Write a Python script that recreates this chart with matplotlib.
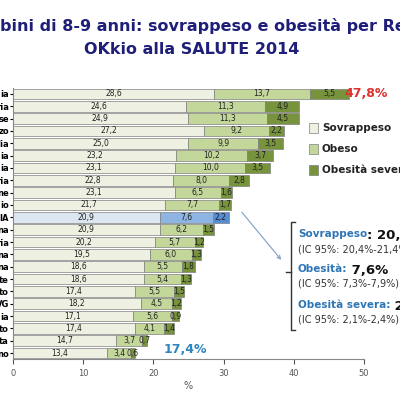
import matplotlib
matplotlib.use("Agg")
import matplotlib.pyplot as plt

labels = ["ia","ria","se","zo","lia","ia","ia","ria","ne","io","IA","na","ria","na","na","te","to","VG","ia","to","ta","no"]
sovrappeso = [28.6,24.6,24.9,27.2,25.0,23.2,23.1,22.8,23.1,21.7,20.9,20.9,20.2,19.5,18.6,18.6,17.4,18.2,17.1,17.4,14.7,13.4]
obeso = [13.7,11.3,11.3,9.2,9.9,10.2,10.0,8.0,6.5,7.7,7.6,6.2,5.7,6.0,5.5,5.4,5.5,4.5,5.6,4.1,3.7,3.4]
severa = [5.5,4.9,4.5,2.2,3.5,3.7,3.5,2.8,1.6,1.7,2.2,1.5,1.2,1.3,1.8,1.3,1.5,1.2,0.9,1.4,0.7,0.6]
italia_idx = 10

fig = plt.figure(figsize=(4,4), dpi=100)
ax = fig.add_axes([13/400, 1-359.2/400, 351/400, (359.2-87.8)/400])
n = len(labels)
y = list(range(n))[::-1]
c1 = ['#DCE6F1' if i == italia_idx else '#EEF1E2' for i in range(n)]
c2 = ['#8DB4E2' if i == italia_idx else '#C4D79B' for i in range(n)]
c3 = ['#558ED5' if i == italia_idx else '#77933C' for i in range(n)]
h = 0.85
ax.barh(y, sovrappeso, height=h, color=c1, edgecolor='#808080', linewidth=0.5)
ax.barh(y, obeso, left=sovrappeso, height=h, color=c2, edgecolor='#808080', linewidth=0.5)
lefts = [a+b for a, b in zip(sovrappeso, obeso)]
ax.barh(y, severa, left=lefts, height=h, color=c3, edgecolor='#808080', linewidth=0.5)
fmt = lambda v: f"{v:.1f}".replace('.', ',')
for i in range(n):
    ax.text(sovrappeso[i]/2, y[i], fmt(sovrappeso[i]), ha='center', va='center', fontsize=5.5, color='#222')
    ax.text(sovrappeso[i]+obeso[i]/2, y[i], fmt(obeso[i]), ha='center', va='center', fontsize=5.5, color='#222')
    ax.text(lefts[i]+severa[i]/2, y[i], fmt(severa[i]), ha='center', va='center', fontsize=5.5, color='#222')
ax.text(47.2, y[0], "47,8%", color='#E03030', fontsize=9, fontweight='bold', va='center')
ax.text(21.5, y[-1]+0.3, "17,4%", color='#2E86C1', fontsize=9, fontweight='bold', va='center')

ax.set_xlim(0, 50)
ax.set_ylim(-0.5, n-0.5)
ax.set_xticks([0,10,20,30,40,50])
ax.tick_params(axis='x', labelsize=6, colors='#555')
ax.set_yticks(y)
ax.set_yticklabels(labels, fontsize=6, fontweight='bold')
ax.tick_params(axis='y', length=2, pad=1)
for s in ['top','right']:
    ax.spines[s].set_visible(False)
ax.spines['left'].set_color('#888')
ax.spines['bottom'].set_color('#888')
ax.set_xlabel('%', fontsize=7, color='#555', labelpad=2)

fig.text(0.0, 0.935, "bini di 8-9 anni: sovrappeso e obesità per Regio", fontsize=11.5, fontweight='bold', color='#1F1F7A', va='center', ha='left')
fig.text(0.48, 0.875, "OKkio alla SALUTE 2014", fontsize=11.5, fontweight='bold', color='#1F1F7A', va='center', ha='center')

# legend
for j, (lab, col) in enumerate([("Sovrappeso", '#EEF1E2'), ("Obeso", '#C4D79B'), ("Obesità severa", '#77933C')]):
    yy = 1 - (128 + j*21)/400
    fig.patches.append(plt.Rectangle((309/400, yy-0.012), 0.022, 0.024, transform=fig.transFigure, facecolor=col, edgecolor='#808080', lw=0.5))
    fig.text(322/400, yy, lab, fontsize=7.5, fontweight='bold', color='#222', va='center')

# annotation
fig.add_artist(matplotlib.patches.FancyArrowPatch((240/400, 1-210/400), (283/400, 1-262/400), transform=fig.transFigure, arrowstyle='->', mutation_scale=6, color='#7F9FC0', lw=0.8))
fig.add_artist(matplotlib.lines.Line2D([295/400, 291/400, 291/400, 295/400], [1-222/400, 1-222/400, 1-330/400, 1-330/400], transform=fig.transFigure, color='#333', lw=1))
fig.add_artist(matplotlib.lines.Line2D([286/400, 291/400], [1-272/400, 1-272/400], transform=fig.transFigure, color='#333', lw=1))
tx = 298/400
def pair(yp, a, b):
    t = fig.text(tx, 1-yp/400, a, fontsize=7.5, color='#2E75B6', fontweight='bold', va='baseline')
    ax.annotate(b, xy=(1, 0), xycoords=t, va='baseline', ha='left', fontsize=9.5, color='#111', fontweight='bold', annotation_clip=False)
pair(237, "Sovrappeso", ": 20,9%")
fig.text(tx, 1-249/400, "(IC 95%: 20,4%-21,4%)", fontsize=7, color='#333', va='center')
pair(272, "Obesità:", " 7,6%")
fig.text(tx, 1-284/400, "(IC 95%: 7,3%-7,9%)", fontsize=7, color='#333', va='center')
pair(308, "Obesità severa:", " 2,2%")
fig.text(tx, 1-320/400, "(IC 95%: 2,1%-2,4%)", fontsize=7, color='#333', va='center')

fig.savefig("out.png", dpi=100)
